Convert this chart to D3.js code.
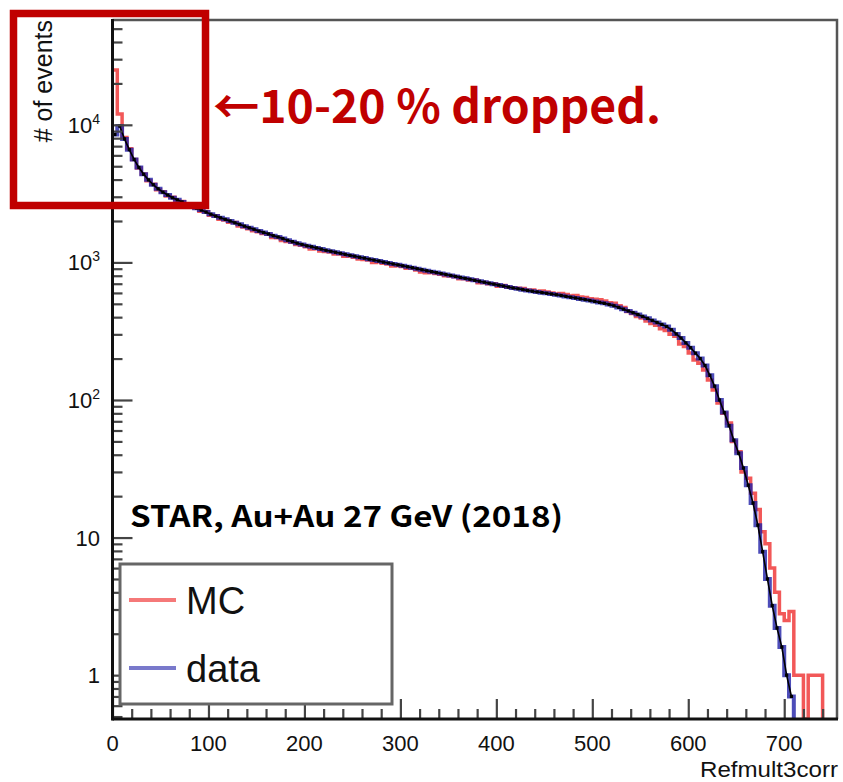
<!DOCTYPE html>
<html><head><meta charset="utf-8">
<script src="https://cdn.jsdelivr.net/npm/d3@7"></script>
<style>body{margin:0;background:#fff}svg{display:block}</style>
</head><body>
<svg id="c" width="843" height="782"></svg>
<script>
const binWidth = 5;
const dataCounts = [
8500, 9800, 7900, 6600, 5600, 4900, 4370, 3980, 3670, 3430,
3240, 3090, 2950, 2850, 2750, 2660, 2570, 2480, 2400, 2320,
2240, 2170, 2110, 2055, 2000, 1940, 1890, 1835, 1785, 1740,
1690, 1650, 1610, 1565, 1530, 1490, 1450, 1415, 1380, 1350,
1320, 1300, 1275, 1250, 1225, 1205, 1185, 1165, 1145, 1125,
1110, 1090, 1075, 1055, 1040, 1025, 1005, 990, 975, 960,
945, 930, 915, 900, 885, 870, 857, 843, 830, 817,
804, 791, 778, 766, 754, 741, 730, 718, 706, 695,
684, 673, 662, 652, 643, 634, 625, 617, 610, 603,
596, 589, 582, 574, 566, 558, 551, 543, 536, 528,
520, 512, 504, 494, 484, 471, 457, 444, 431, 418,
405, 392, 379, 366, 354, 342, 324, 302, 282, 260,
240, 219, 200, 178, 151, 126, 100, 81, 65, 51,
41, 32, 24, 17.8, 12.3, 7.9, 5.0, 3.2, 2.2, 1.6,
1.0, 0.7];
const mcCounts = [
25000, 12000, 8100, 6700, 5600, 4850, 4400, 3930, 3700, 3380,
3260, 3040, 2970, 2800, 2770, 2620, 2540, 2500, 2350, 2330,
2200, 2180, 2060, 2030, 1960, 1950, 1840, 1810, 1760, 1700,
1670, 1620, 1600, 1520, 1510, 1440, 1420, 1400, 1350, 1330,
1300, 1250, 1260, 1210, 1200, 1190, 1150, 1150, 1110, 1120,
1090, 1060, 1050, 1040, 1000, 1010, 985, 975, 940, 950,
935, 905, 905, 880, 850, 840, 845, 830, 820, 800,
795, 785, 760, 760, 745, 745, 710, 715, 700, 700,
670, 680, 660, 655, 650, 645, 630, 630, 615, 620,
610, 600, 590, 595, 585, 570, 575, 560, 555, 545,
540, 535, 525, 510, 505, 485, 470, 440, 425, 405,
395, 375, 360, 350, 330, 320, 300, 290, 255, 245,
220, 195, 185, 165, 140, 118, 95, 80, 68, 50,
42, 30, 27, 21, 16, 11, 9, 6, 4, 2.8,
2.5, 2.9, 1, 1, 0, 1, 1, 1];
const xMajorTicks = [0, 100, 200, 300, 400, 500, 600, 700];
const xTickLabels = ["0", "100", "200", "300", "400", "500", "600", "700"];
const yMajorTicks = [1, 10, 100, 1000, 10000];
const yLabelBase = ["1", "10", "10", "10", "10"];
const yLabelExp = ["", "", "2", "3", "4"];
const seriesNames = ["MC", "data"];
const xTitle = "Refmult3corr";
const yTitle = "# of events";
const noteText = "STAR, Au+Au 27 GeV (2018)";
const calloutText = "\u219010-20 % dropped.";

const svg = d3.select("#c");
const L = 112.5, R = 837, T = 20, B = 719;
const x = d3.scaleLinear().domain([0, 755]).range([L, R]);
const y = d3.scaleLog().domain([0.48, 57800]).range([B, T]);
const yMin = y.domain()[0];

svg.append("defs").append("clipPath").attr("id", "clip")
  .append("rect").attr("x", L).attr("y", T).attr("width", R - L).attr("height", B - T);

function histPoints(counts) {
  const pts = [];
  counts.forEach((v, i) => {
    const vv = v > 0 ? v : yMin;
    pts.push([i * binWidth, vv]);
    pts.push([(i + 1) * binWidth, vv]);
  });
  pts.push([counts.length * binWidth, yMin]);
  return pts;
}
const line = d3.line().x(d => x(d[0])).y(d => y(Math.max(d[1], yMin)));

// frame top & right
svg.append("path").attr("d", `M${L},${T}H${R}V${B}`).attr("fill", "none")
  .attr("stroke", "#555").attr("stroke-width", 2.5);

const plot = svg.append("g").attr("clip-path", "url(#clip)");
plot.append("path").attr("d", line(histPoints(mcCounts))).attr("fill", "none")
  .attr("stroke", "#ee2020").attr("stroke-opacity", 0.75).attr("stroke-width", 3.5);
plot.append("path").attr("d", line(histPoints(dataCounts))).attr("fill", "none")
  .attr("stroke", "#2020a8").attr("stroke-opacity", 0.8).attr("stroke-width", 4);
const centerLine = d3.line().x(d => x((d[0] + 0.5) * binWidth)).y(d => y(d[1]));
plot.append("path").attr("d", centerLine(dataCounts.map((v, i) => [i, v]).slice(1)))
  .attr("fill", "none").attr("stroke", "#000").attr("stroke-width", 1.6);
plot.selectAll("rect.pt").data(dataCounts).join("rect").attr("class", "pt")
  .attr("x", (d, i) => x((i + 0.5) * binWidth) - 1.6)
  .attr("y", d => y(d) - 1.6).attr("width", 3.2).attr("height", 3.2).attr("fill", "#000");

// axes ticks
const xMinor = d3.range(0, 755, 20).filter(v => v % 100 !== 0);
const gx = svg.append("g").attr("transform", `translate(0,${B})`);
gx.call(d3.axisBottom(x).tickValues(xMajorTicks).tickSize(-20).tickFormat(""));
const gxm = svg.append("g").attr("transform", `translate(0,${B})`);
gxm.call(d3.axisBottom(x).tickValues(xMinor).tickSize(-10).tickFormat(""));
const yMinor = [];
[0.1, 1, 10, 100, 1000, 10000].forEach(d => { for (let k = 2; k <= 9; k++) { const v = d * k; if (v >= yMin && v <= 57800) yMinor.push(v); } });
const gy = svg.append("g").attr("transform", `translate(${L},0)`);
gy.call(d3.axisLeft(y).tickValues(yMajorTicks).tickSize(-20).tickFormat(""));
const gym = svg.append("g").attr("transform", `translate(${L},0)`);
gym.call(d3.axisLeft(y).tickValues(yMinor).tickSize(-10).tickFormat(""));
[gx, gxm, gy, gym].forEach(g => {
  g.selectAll(".domain").remove();
  g.selectAll(".tick line").attr("stroke", "#444").attr("stroke-width", 2.2);
});
svg.append("line").attr("x1", L).attr("x2", R + 1).attr("y1", B).attr("y2", B).attr("stroke", "#111").attr("stroke-width", 3);
svg.append("line").attr("x1", L).attr("x2", L).attr("y1", T - 1).attr("y2", B + 1.5).attr("stroke", "#111").attr("stroke-width", 3);

const labelFont = "'Liberation Sans', Arial, Helvetica, sans-serif";
svg.append("g").selectAll("text").data(xMajorTicks).join("text")
  .attr("x", d => x(d)).attr("y", 751).attr("text-anchor", "middle")
  .attr("font-family", labelFont).attr("font-size", 22).attr("fill", "#111")
  .text((d, i) => xTickLabels[i]);
const yl = svg.append("g").selectAll("text").data(yMajorTicks).join("text")
  .attr("x", 100).attr("y", d => y(d) + 8).attr("text-anchor", "end")
  .attr("font-family", labelFont).attr("font-size", 22).attr("fill", "#111");
yl.append("tspan").text((d, i) => yLabelBase[i]);
yl.append("tspan").attr("dy", -9).attr("font-size", 14).text((d, i) => yLabelExp[i]);

svg.append("text").attr("x", 838).attr("y", 777).attr("text-anchor", "end")
  .attr("font-family", labelFont).attr("font-size", 22).attr("fill", "#111")
  .attr("textLength", 138).attr("lengthAdjust", "spacingAndGlyphs").text(xTitle);
svg.append("text").attr("transform", "translate(52,20) rotate(-90)").attr("text-anchor", "end")
  .attr("font-family", labelFont).attr("font-size", 25).attr("fill", "#111").text(yTitle);

// note
svg.append("text").attr("x", 130).attr("y", 527)
  .attr("font-family", "'Noto Sans CJK JP', 'Noto Sans', sans-serif").attr("font-weight", "bold")
  .attr("font-size", 29).attr("fill", "#000").attr("textLength", 433).attr("lengthAdjust", "spacingAndGlyphs")
  .text(noteText);

// legend
const lg = svg.append("g");
lg.append("rect").attr("x", 120).attr("y", 564).attr("width", 272).attr("height", 140)
  .attr("fill", "#fff").attr("stroke", "#666").attr("stroke-width", 3);
const legColors = ["#ee2020", "#2020a8"];
const legY = [600, 668];
seriesNames.forEach((n, i) => {
  lg.append("line").attr("x1", 129).attr("x2", 176).attr("y1", legY[i]).attr("y2", legY[i])
    .attr("stroke", legColors[i]).attr("stroke-opacity", 0.6).attr("stroke-width", 4);
  lg.append("text").attr("x", 186).attr("y", legY[i] + 14)
    .attr("font-family", labelFont).attr("font-size", 38).attr("fill", "#111").text(n);
});

// callout
svg.append("rect").attr("x", 13.5).attr("y", 13.5).attr("width", 192).attr("height", 192)
  .attr("fill", "none").attr("stroke", "#c00000").attr("stroke-width", 7.5);
svg.append("text").attr("x", 213).attr("y", 123)
  .attr("font-family", "'Noto Sans CJK JP', 'Noto Sans', sans-serif").attr("font-weight", "bold")
  .attr("font-size", 46).attr("fill", "#c00000").attr("textLength", 448).attr("lengthAdjust", "spacingAndGlyphs")
  .text(calloutText);
</script>
</body></html>
